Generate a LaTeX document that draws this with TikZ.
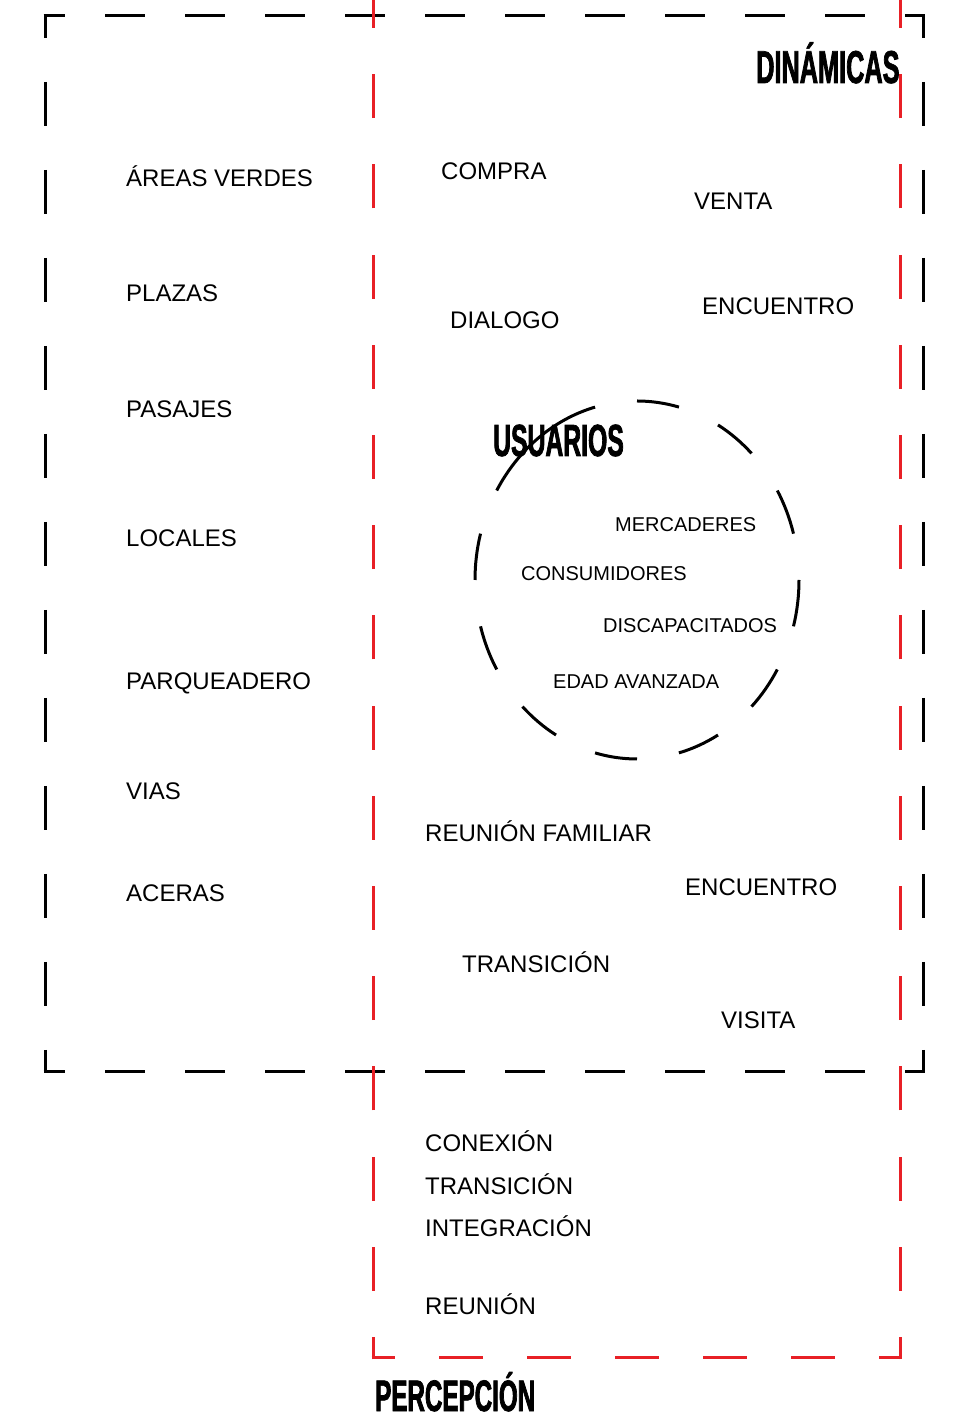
\documentclass[tikz,border=0pt]{standalone}
\usepackage{fontspec}
\setmainfont{Liberation Sans}
\newfontfamily\titlefont[FakeStretch=0.55,FakeBold=1.6]{Liberation Sans}
\definecolor{redc}{RGB}{232,32,38}
\tikzset{
  lbl/.style={anchor=base west, inner sep=0pt, font=\fontsize{24}{28}\selectfont},
  sml/.style={anchor=base west, inner sep=0pt, font=\fontsize{20}{24}\selectfont},
  ttl/.style={anchor=base west, inner sep=0pt, text depth=0pt},
  blk/.style={line width=3pt, draw=black, line cap=butt},
  bh/.style={blk, dash pattern=on 40pt off 40pt, dash phase=18.5pt},
  bv/.style={blk, dash pattern=on 44pt off 44pt, dash phase=20.5pt},
  rv/.style={line width=3pt, draw=redc, line cap=butt, dash pattern=on 44pt off 46.2pt, dash phase=21.5pt},
  rh/.style={line width=3pt, draw=redc, line cap=butt, dash pattern=on 44pt off 44pt, dash phase=20.5pt},
  circ/.style={line width=3pt, draw=black, line cap=butt},
}
\newcommand{\ttltext}[2]{{\titlefont\bfseries\fontsize{#1}{#1}\selectfont #2}}
\begin{document}
\begin{tikzpicture}[x=1pt,y=1pt]
\useasboundingbox (0,0) rectangle (953,1416);
\clip (0,0) rectangle (953,1416);
% left column labels
\node[lbl] (av) at (126,1229) {ÁREAS VERDES};
\node[lbl] (pl) at (126,1114) {PLAZAS};
\node[lbl] (pa) at (126,998) {PASAJES};
\node[lbl] (lo) at (126,869) {LOCALES};
\node[lbl] (pq) at (126,726) {PARQUEADERO};
\node[lbl] (vi) at (126,616) {VIAS};
\node[lbl] (ac) at (126,514) {ACERAS};
% dinamicas
\node[lbl] (co) at (441,1236) {COMPRA};
\node[lbl] (ve) at (694,1206) {VENTA};
\node[lbl] (di) at (450,1087) {DIALOGO};
\node[lbl] (en) at (702,1101) {ENCUENTRO};
\node[lbl] (rf) at (425,574) {REUNIÓN FAMILIAR};
\node[lbl] (en2) at (685,520) {ENCUENTRO};
\node[lbl] (tr) at (462,443) {TRANSICIÓN};
\node[lbl] (vs) at (721,387) {VISITA};
% percepcion
\node[lbl] (cx) at (425,264) {CONEXIÓN};
\node[lbl] (tr2) at (425,221) {TRANSICIÓN};
\node[lbl] (ig) at (425,179) {INTEGRACIÓN};
\node[lbl] (re) at (425,101) {REUNIÓN};
% usuarios
\node[sml] (me) at (615,884) {MERCADERES};
\node[sml] (cs) at (521,835) {CONSUMIDORES};
\node[sml] (dc) at (603,783) {DISCAPACITADOS};
\node[sml] (ed) at (553,727) {EDAD AVANZADA};
% titles
\node[ttl] (tdin) at (756,1333) {\ttltext{46}{DINÁMICAS}};
\node[ttl] (tusu) at (493,960) {\ttltext{45}{USUARIOS}};
\node[ttl] (tper) at (375,5) {\ttltext{44}{PERCEPCIÓN}};
% black dashed frame
\coordinate (btl) at (45,1400);
\coordinate (btr) at (923,1400);
\coordinate (bbl) at (45,344);
\coordinate (bbr) at (923,344);
\draw[bh] ([xshift=-1.5pt]btl) -- ([xshift=1.5pt]btr);
\draw[bh] ([xshift=-1.5pt]bbl) -- ([xshift=1.5pt]bbr);
\draw[bv] ([yshift=1.5pt]btl) -- ([yshift=-1.5pt]bbl);
\draw[bv] ([yshift=1.5pt]btr) -- ([yshift=-1.5pt]bbr);
% usuarios circle
\coordinate (cc) at (637,836);
\foreach \a/\b in {75/90,45/60,15/30,-15/0,-45/-30,-75/-60,-105/-90,-135/-120,-165/-150,165/180,105/150}{
  \draw[circ] ([shift={(\a:162 and 179)}]cc) arc[start angle=\a, end angle=\b, x radius=162pt, y radius=179pt];
}
% red dashed frame
\coordinate (rbl) at (373,58);
\coordinate (rbr) at (900,58);
\coordinate (rtl) at (373,1440);
\coordinate (rtr) at (900,1440);
\draw[rv] ([yshift=-1.5pt]rbl) -- (rtl);
\draw[rv] ([yshift=-1.5pt]rbr) -- (rtr);
\draw[rh] ([xshift=-1.5pt]rbl) -- ([xshift=1.5pt]rbr);
\end{tikzpicture}
\end{document}
